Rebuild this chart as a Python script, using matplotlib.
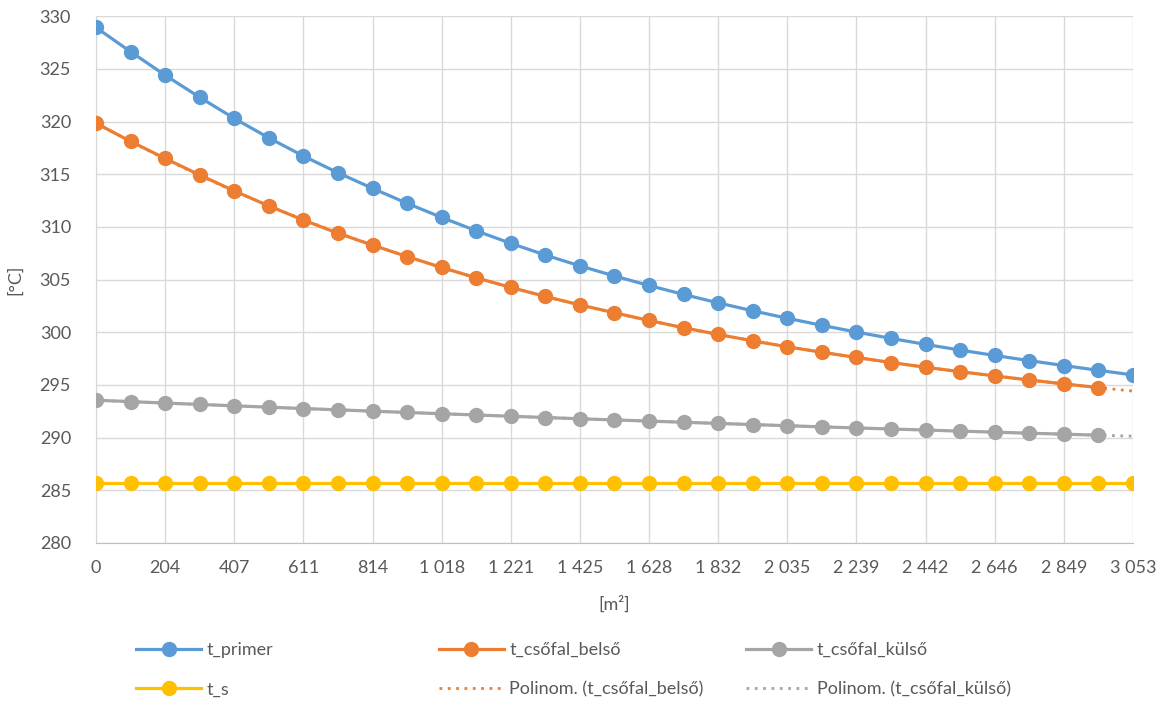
import numpy as np
import matplotlib
matplotlib.use("Agg")
import matplotlib.pyplot as plt

plt.rcParams['font.family'] = ['Lato', 'DejaVu Sans']

# x categories (surface area, m2) - 31 points, every other one labelled
x_labels = ["0", "102", "204", "305", "407", "509", "611", "712", "814", "916",
            "1 018", "1 119", "1 221", "1 323", "1 425", "1 526", "1 628", "1 730",
            "1 832", "1 933", "2 035", "2 137", "2 239", "2 340", "2 442", "2 544",
            "2 646", "2 747", "2 849", "2 951", "3 053"]

t_primer = [328.93, 326.63, 324.40, 322.30, 320.30, 318.45, 316.73, 315.14, 313.66, 312.24,
            310.90, 309.63, 308.44, 307.33, 306.30, 305.34, 304.44, 303.59, 302.79, 302.04,
            301.33, 300.66, 300.02, 299.42, 298.85, 298.31, 297.80, 297.31, 296.84, 296.39,
            295.95]
t_csofal_belso = [319.84, 318.12, 316.50, 314.93, 313.42, 311.99, 310.65, 309.40, 308.27, 307.19,
                  306.15, 305.17, 304.26, 303.40, 302.60, 301.85, 301.12, 300.43, 299.79, 299.19,
                  298.62, 298.10, 297.61, 297.13, 296.68, 296.26, 295.86, 295.47, 295.10, 294.75]
t_csofal_kulso = [293.55, 293.42, 293.28, 293.15, 293.02, 292.89, 292.76, 292.64, 292.51, 292.39,
                  292.27, 292.15, 292.03, 291.91, 291.79, 291.68, 291.57, 291.46, 291.35, 291.24,
                  291.13, 291.02, 290.92, 290.82, 290.72, 290.62, 290.52, 290.42, 290.33, 290.23]
t_s = [285.7] * 31

blue = '#5B9BD5'
orange = '#ED7D31'
gray = '#A5A5A5'
yellow = '#FFC000'
txt = '#595959'

fig = plt.figure(figsize=(11.65, 7.04), dpi=100)
ax = fig.add_axes([0.0824, 0.2287, 0.8901, 0.7483])

idx = np.arange(len(x_labels))


# polynomial trendline fitted to the series, extended one period forward like Excel
def trend(vals, order=4):
    xs = np.arange(len(vals))
    c = np.polyfit(xs, vals, order)
    xt = np.linspace(0, len(vals), 200)
    return xt, np.polyval(c, xt)


lw = 2.3
ms = 10
h1, = ax.plot(idx, t_primer, color=blue, lw=lw, marker='o', ms=ms, label='t_primer', zorder=3)
h2, = ax.plot(idx[:len(t_csofal_belso)], t_csofal_belso, color=orange, lw=lw, marker='o',
              ms=ms, label='t_csőfal_belső', zorder=3)
h3, = ax.plot(idx[:len(t_csofal_kulso)], t_csofal_kulso, color=gray, lw=lw, marker='o',
              ms=ms, label='t_csőfal_külső', zorder=3)
h4, = ax.plot(idx, t_s, color=yellow, lw=lw, marker='o', ms=ms, label='t_s', zorder=3)

xt, yt = trend(t_csofal_belso)
h5, = ax.plot(xt, yt, color=orange, lw=2, ls=(0, (1, 2)), label='Polinom. (t_csőfal_belső)', zorder=2)
xt, yt = trend(t_csofal_kulso)
h6, = ax.plot(xt, yt, color=gray, lw=2, ls=(0, (1, 2)), label='Polinom. (t_csőfal_külső)', zorder=2)

ax.set_xlim(0, 30)
ax.set_ylim(280, 330)
ax.set_yticks(np.arange(280, 331, 5))
ax.set_xticks(idx[::2])
ax.set_xticklabels(x_labels[::2])
ax.grid(True, color='#D9D9D9', lw=1)
ax.set_axisbelow(True)
ax.tick_params(axis='y', length=0, labelsize=13, colors=txt, pad=18)
ax.tick_params(axis='x', length=0, labelsize=13, colors=txt, pad=12)
for s in ['top', 'right']:
    ax.spines[s].set_visible(False)
ax.spines['left'].set_color('#D9D9D9')
ax.spines['bottom'].set_color('#BFBFBF')

ax.set_ylabel('[°C]', fontsize=13, color=txt, labelpad=12)
ax.set_xlabel('[m²]', fontsize=13, color=txt, labelpad=14)

# legend: three columns, each its own legend so the column positions match
cols = [([h1, h4], 0.109), ([h2, h5], 0.369), ([h3, h6], 0.633)]
for hs, xpos in cols:
    fig.legend(hs, [h.get_label() for h in hs], loc='upper left',
               bbox_to_anchor=(xpos, 0.101), frameon=False, borderpad=0,
               fontsize=13, labelcolor=txt, handlelength=3.6,
               labelspacing=1.3, handletextpad=0.3)

fig.savefig('out.png', dpi=100)
